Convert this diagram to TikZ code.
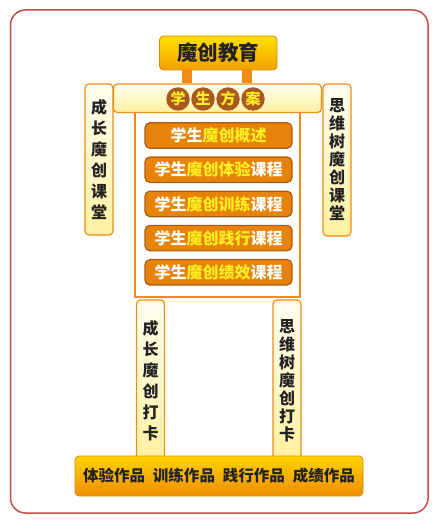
\documentclass[tikz,border=0pt]{standalone}
\usepackage{fontspec}
\newfontfamily\cjk{Noto Sans CJK SC}
\definecolor{frame}{HTML}{C84A4E}
\definecolor{ora}{HTML}{F28C18}
\definecolor{ly1}{HTML}{FFFDF0}
\definecolor{ly2}{HTML}{FFF1A0}
\definecolor{gy1}{HTML}{FFE000}
\definecolor{gy2}{HTML}{F2A000}
\definecolor{gby1}{HTML}{FFD400}
\definecolor{gby2}{HTML}{EE8C00}
\definecolor{goldb}{HTML}{D98C00}
\definecolor{btnf}{HTML}{E8830A}
\definecolor{btnb}{HTML}{A85A14}
\definecolor{brn}{HTML}{A85A1E}
\definecolor{yel}{HTML}{FFEE22}
\definecolor{dark}{HTML}{222222}
\begin{document}
\begin{tikzpicture}[x=1pt,y=-1pt,
  lbox/.style={draw=ora, line width=1.2pt, rounded corners=4pt, top color=ly1, bottom color=ly2, inner sep=0pt, text=dark, align=center},
  gbox/.style={draw=goldb, line width=0.8pt, rounded corners=4pt, inner sep=0pt, text=dark},
  btn/.style={draw=btnb, line width=1.2pt, fill=btnf, rounded corners=5pt, minimum width=147pt, minimum height=25.5pt, inner sep=0pt, font=\cjk\bfseries\fontsize{16}{16}\selectfont, text=white},
  circ/.style={circle, fill=brn, minimum size=23.5pt, inner sep=0pt, text=yel, font=\cjk\bfseries\fontsize{15}{15}\selectfont},
  conn/.style={draw=ora, line width=10pt},
  vleft/.style={font=\cjk\bfseries\fontsize{16}{21}\selectfont},
  vright/.style={font=\cjk\bfseries\fontsize{16}{18}\selectfont},
]
\useasboundingbox (0,0) rectangle (438,524);
\draw[frame, line width=1.5pt, rounded corners=15pt] (10.5,10) rectangle (428,513);

% middle panel
\node[draw=ora, line width=1.2pt, fill=white, minimum width=165pt, minimum height=185pt, inner sep=0pt] (panel) at (217.5,204.5) {};

% legs
\node[lbox, vleft, minimum width=28pt, minimum height=162pt] (legl) at (150.5,381) {成\\长\\魔\\创\\打\\卡};
\node[lbox, vright, minimum width=28pt, minimum height=162pt] (legr) at (287,381) {思\\维\\树\\魔\\创\\打\\卡};

% bottom box
\node[gbox, top color=gby1, bottom color=gby2, minimum width=288pt, minimum height=40pt, font=\cjk\bfseries\fontsize{15.5}{16}\selectfont] (works) at (219,476) {体验作品\hspace{8pt}训练作品\hspace{8pt}践行作品\hspace{8pt}成绩作品};

% side boxes
\node[lbox, vleft, minimum width=28pt, minimum height=151pt] (sidel) at (99,159.5) {成\\长\\魔\\创\\课\\堂};
\node[lbox, vright, minimum width=28pt, minimum height=152pt] (sider) at (337,160) {思\\维\\树\\魔\\创\\课\\堂};

% plan bar
\node[lbox, minimum width=208pt, minimum height=28.5pt] (plan) at (217.5,98.25) {};
\node[circ] (c1) at (178,99) {学};
\node[circ] (c2) at (203,99) {生};
\node[circ] (c3) at (228,99) {方};
\node[circ] (c4) at (253,99) {案};

% top box
\node[gbox, top color=gy1, bottom color=gy2, minimum width=117.5pt, minimum height=34pt, font=\cjk\bfseries\fontsize{20.5}{21}\selectfont] (top) at (218.25,53) {魔创教育};

% connectors
\draw[conn] ([xshift=-31pt]top.south) -- ([xshift=-31pt]top.south |- plan.north);
\draw[conn] ([xshift=29pt]top.south) -- ([xshift=29pt]top.south |- plan.north);

% buttons
\node[btn] (b1) at (218.5,135.5) {学生\textcolor{yel}{魔创概述}};
\node[btn] (b2) at (218.5,169.7) {学生\textcolor{yel}{魔创体验}课程};
\node[btn] (b3) at (218.5,203.9) {学生\textcolor{yel}{魔创训练}课程};
\node[btn] (b4) at (218.5,238.1) {学生\textcolor{yel}{魔创践行}课程};
\node[btn] (b5) at (218.5,272.3) {学生\textcolor{yel}{魔创绩效}课程};
\end{tikzpicture}
\end{document}
